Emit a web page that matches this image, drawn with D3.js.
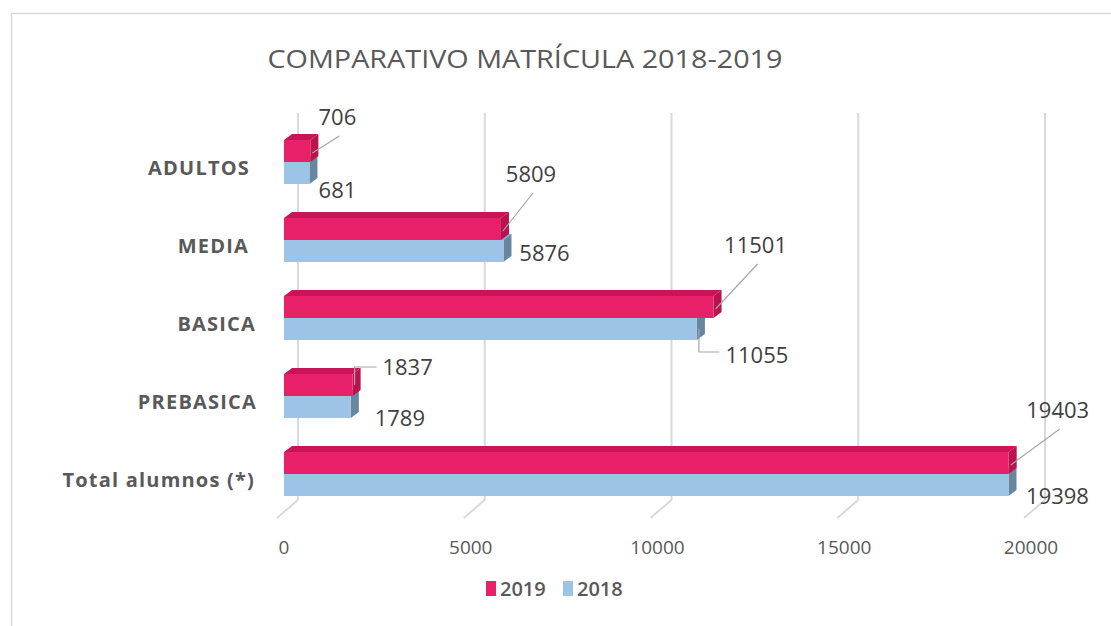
<!DOCTYPE html>
<html>
<head>
<meta charset="utf-8">
<style>
body { margin: 0; background: #fff; }
svg { display: block; }
text { font-family: "Open Sans", "Liberation Sans", sans-serif; }
</style>
</head>
<body>
<svg width="1111" height="626"></svg>
<script src="https://cdnjs.cloudflare.com/ajax/libs/d3/7.8.5/d3.min.js"></script>
<script>

var categories = ['ADULTOS', 'MEDIA', 'BASICA', 'PREBASICA', 'Total alumnos (*)']
var series = ['2019', '2018']
var values2019 = [706, 5809, 11501, 1837, 19403]
var values2018 = [681, 5876, 11055, 1789, 19398]
var ticks = [0, 5000, 10000, 15000, 20000]

// label offsets from bar end (x) and bar centre (y), per series
var labelOff2019 = [[27, -34], [30, -55], [42, -62], [55, -18], [49, -53]]
var labelOff2018 = [[28, 17], [41, 2], [60, 26], [49, 11], [49, 11]]
// leader type per label: 'slant', 'elbow' or none
var leader2019 = ['slant', 'slant', 'slant', 'elbow', 'slant']
var leader2018 = [null, null, 'elbow', null, null]
// right edge of category names (original has uneven padding)
var catRight = [250, 249, 256, 257, 255]

var pink = {front: '#e8206a', top: '#c9145a', side: '#b8124f'}
var blue = {front: '#9dc3e6', top: '#7fa6c9', side: '#67869f'}

var svg = d3.select('svg')

// chart frame
svg.append('rect')
	.attr('x', 11.5).attr('y', 13.5)
	.attr('width', 1200).attr('height', 700)
	.attr('fill', 'none')
	.attr('stroke', '#d9d9d9')
	.attr('stroke-width', 1.5)

var x = d3.scaleLinear().domain([0, 20000]).range([284, 1031])
var y = d3.scalePoint().domain(categories).range([162, 474])

var barH = 22, dx = 8, dy = -6
var wallDx = 14, floorDx = -7, floorFront = 518, floorBack = 500, wallTop = 113

// back wall grid
svg.selectAll('.grid')
	.data(ticks)
	.enter().append('line')
	.attr('x1', d => x(d) + wallDx).attr('x2', d => x(d) + wallDx)
	.attr('y1', wallTop).attr('y2', floorBack)
	.attr('stroke', '#d9d9d9').attr('stroke-width', 2)

// floor ticks
svg.selectAll('.floor')
	.data(ticks)
	.enter().append('line')
	.attr('x1', d => x(d) + floorDx).attr('y1', floorFront)
	.attr('x2', d => x(d) + wallDx).attr('y2', floorBack)
	.attr('stroke', '#d9d9d9').attr('stroke-width', 2)

// axis labels
svg.selectAll('.tick')
	.data(ticks)
	.enter().append('text')
	.attr('x', d => x(d))
	.attr('y', 554)
	.attr('text-anchor', 'middle')
	.attr('font-size', 19)
	.attr('fill', '#595959')
	.text(d => d)

function box(g, x0, x1, yTop, c) {
	var pts = function(a) { return a.map(p => p.join(',')).join(' ') }
	g.append('polygon')
		.attr('points', pts([[x0, yTop], [x0 + dx, yTop + dy], [x1 + dx, yTop + dy], [x1, yTop]]))
		.attr('fill', c.top)
	g.append('polygon')
		.attr('points', pts([[x1, yTop], [x1 + dx, yTop + dy], [x1 + dx, yTop + barH + dy], [x1, yTop + barH]]))
		.attr('fill', c.side)
	g.append('rect')
		.attr('x', x0).attr('y', yTop)
		.attr('width', x1 - x0).attr('height', barH)
		.attr('fill', c.front)
}

var bars = svg.append('g')
categories.forEach(function(cat, i) {
	var c = y(cat)
	box(bars, x(0), x(values2018[i]), c, blue)
	box(bars, x(0), x(values2019[i]), c - barH, pink)
})

// data labels + leaders
var lab = svg.append('g')
function dataLabel(v, i, yc, off, kind) {
	var xe = x(v)
	var lx = xe + off[0], ly = yc + off[1]
	if (kind == 'slant') {
		lab.append('line')
			.attr('x1', xe + 2).attr('y1', yc + 2)
			.attr('x2', lx + 2).attr('y2', ly + 19)
			.attr('stroke', '#a6a6a6').attr('stroke-width', 1.2)
	}
	else if (kind == 'elbow') {
		var ey = ly + (off[1] > 0 ? -3 : 0)
		var ex = lx - String(v).length * 6.5 - 5
		lab.append('path')
			.attr('d', 'M' + (xe + 2) + ',' + yc + 'V' + ey + 'H' + ex)
			.attr('fill', 'none')
			.attr('stroke', '#a6a6a6').attr('stroke-width', 1.2)
	}
	lab.append('text')
		.attr('x', lx).attr('y', ly + 8)
		.attr('text-anchor', 'middle')
		.attr('font-size', 22)
		.attr('fill', '#404040')
		.text(v)
}
categories.forEach(function(cat, i) {
	var c = y(cat)
	dataLabel(values2019[i], i, c - barH / 2, labelOff2019[i], leader2019[i])
	dataLabel(values2018[i], i, c + barH / 2, labelOff2018[i], leader2018[i])
})

// category labels
svg.selectAll('.cat')
	.data(categories)
	.enter().append('text')
	.attr('x', (d, i) => catRight[i])
	.attr('y', d => y(d) + 13)
	.attr('text-anchor', 'end')
	.attr('font-size', 20)
	.attr('font-weight', 'bold')
	.attr('letter-spacing', 1.2)
	.attr('fill', '#595959')
	.text(d => d)

// title
svg.append('text')
	.attr('x', 525).attr('y', 68)
	.attr('text-anchor', 'middle')
	.attr('font-size', 26)
	.attr('textLength', 515)
	.attr('lengthAdjust', 'spacingAndGlyphs')
	.attr('fill', '#595959')
	.text('COMPARATIVO MATRÍCULA 2018-2019')

// legend
var legendX = [486, 563]
var legColors = [pink.front, blue.front]
series.forEach(function(s, i) {
	svg.append('rect')
		.attr('x', legendX[i]).attr('y', 581)
		.attr('width', 10).attr('height', 15)
		.attr('fill', legColors[i])
	svg.append('text')
		.attr('x', legendX[i] + 14).attr('y', 596)
		.attr('font-size', 20)
		.attr('font-weight', 600)
		.attr('fill', '#595959')
		.text(s)
})

</script>
</body>
</html>
